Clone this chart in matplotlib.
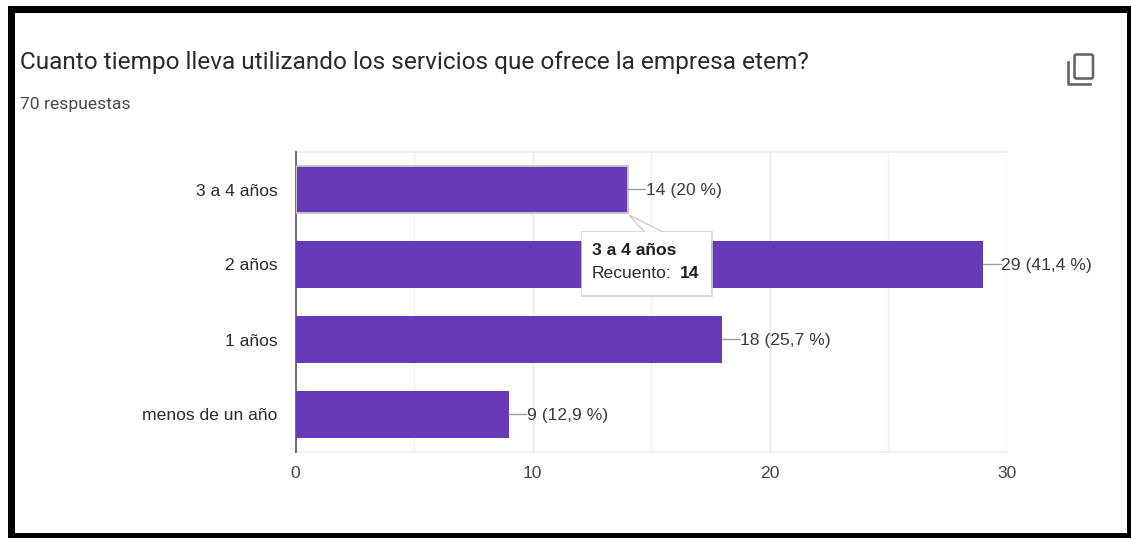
import matplotlib
matplotlib.use("Agg")
import matplotlib.pyplot as plt
from matplotlib.patches import Rectangle, FancyBboxPatch, Polygon
from matplotlib.lines import Line2D

W, H = 1131, 538
plt.rcParams['font.family'] = ['Liberation Sans', 'DejaVu Sans']

categories = ["3 a 4 años", "2 años", "1 años", "menos de un año"]
counts = [14, 29, 18, 9]
percent_labels = ["20 %", "41,4 %", "25,7 %", "12,9 %"]
major_ticks = [0, 10, 20, 30]
minor_ticks = [5, 15, 25]
title = "Cuanto tiempo lleva utilizando los servicios que ofrece la empresa etem?"
subtitle = "70 respuestas"
tooltip_index = 0

PURPLE = "#673ab7"
TEXT = "#3c3c3c"
LABEL_SIZE = 12.6

fig = plt.figure(figsize=(W / 100, H / 100), dpi=100, facecolor="white")

# Plot area placed in pixel terms
left, right, top, bottom = 295.5, 1007, 152, 452
ax = fig.add_axes([left / W, 1 - bottom / H, (right - left) / W, (bottom - top) / H])
ax.set_xlim(0, 30)
ax.set_ylim(len(categories) - 0.5, -0.5)
ax.set_axisbelow(True)

for s in ("top", "right", "bottom"):
    ax.spines[s].set_visible(False)
ax.spines["left"].set_color("#6e6e6e")
ax.spines["left"].set_linewidth(1.4)

ax.set_xticks(major_ticks)
ax.set_xticks(minor_ticks, minor=True)
ax.set_yticks(range(len(categories)), categories)
ax.grid(axis="x", which="major", color="#e6e6e6", lw=1)
ax.grid(axis="x", which="minor", color="#f2f2f2", lw=1)
ax.tick_params(axis="both", which="both", length=0)
ax.tick_params(axis="x", pad=10, labelsize=LABEL_SIZE, labelcolor="#444444")
ax.tick_params(axis="y", pad=13, labelsize=LABEL_SIZE, labelcolor="#2b2b2b")
for y in (-0.5, len(categories) - 0.5):
    ax.axhline(y, color="#eeeeee", lw=1.2, zorder=0, clip_on=False)

bars = ax.barh(range(len(categories)), counts, height=0.62, color=PURPLE, zorder=3)
# Hovered bar gets a soft grey outline
bars[tooltip_index].set_edgecolor("#c6c6c6")
bars[tooltip_index].set_linewidth(1.4)

# Value labels joined to the bars by short leaders
for i, (c, p) in enumerate(zip(counts, percent_labels)):
    ax.annotate(f"{c} ({p})", xy=(c, i), xytext=(18, -1), textcoords="offset pixels",
                va="center", ha="left", fontsize=LABEL_SIZE, color=TEXT, zorder=4, annotation_clip=False)
    ax.annotate("", xy=(c, i), xytext=(18, 0), textcoords="offset pixels",
                arrowprops=dict(arrowstyle="-", color="#9e9e9e", lw=1, shrinkA=0, shrinkB=0), zorder=4)

# Overlay in pixel coordinates for frame, heading, icon and tooltip
ov = fig.add_axes([0, 0, 1, 1], zorder=10)
ov.set_xlim(0, W)
ov.set_ylim(H, 0)
ov.axis("off")
ov.patch.set_alpha(0)

# Heavy black frame, flush with the right and bottom edges
for x, y, w, h in [(8, 6, 1123, 7), (8, 6, 7, 532), (8, 533, 1123, 5), (1127, 6, 4, 532)]:
    ov.add_patch(Rectangle((x, y), w, h, fc="black", ec="none"))

ov.text(20, 62, title, fontsize=17.6, color="#2a2a2a", va="center", ha="left", family="Roboto")
ov.text(20, 104, subtitle, fontsize=LABEL_SIZE, color="#4a4a4a", va="center", ha="left", family="Roboto")

# Copy icon
ICON = "#62666b"
ov.add_patch(FancyBboxPatch((1074.5, 54.5), 18.5, 24, boxstyle="round,pad=0,rounding_size=2",
                            fill=False, ec=ICON, lw=1.9))
ov.add_line(Line2D([1067.5, 1067.5, 1090], [62, 83.5, 83.5], color=ICON, lw=1.9))

# Tooltip of the hovered bar, with a drop shadow
tx, ty, tw, th = 582, 232, 129, 63
ov.add_patch(Rectangle((tx - 1, ty - 1), tw + 2.5, th + 3, fc="#d4d4d4", ec="none", alpha=0.8))
ov.add_patch(Polygon([(629, 215), (645, 232.5), (664, 232.5)], closed=True, fc="white", ec="#cccccc", lw=1))
ov.add_patch(Rectangle((tx, ty), tw, th, fc="white", ec="none"))
ov.text(592, 250.5, categories[tooltip_index], fontsize=LABEL_SIZE, fontweight="bold", color="#1f1f1f", va="center")
ov.text(592, 274, "Recuento:", fontsize=LABEL_SIZE, color="#2b2b2b", va="center")
ov.text(680, 274, str(counts[tooltip_index]), fontsize=LABEL_SIZE, fontweight="bold", color="#1f1f1f", va="center")

fig.savefig("out.png", dpi=100, facecolor="white")
